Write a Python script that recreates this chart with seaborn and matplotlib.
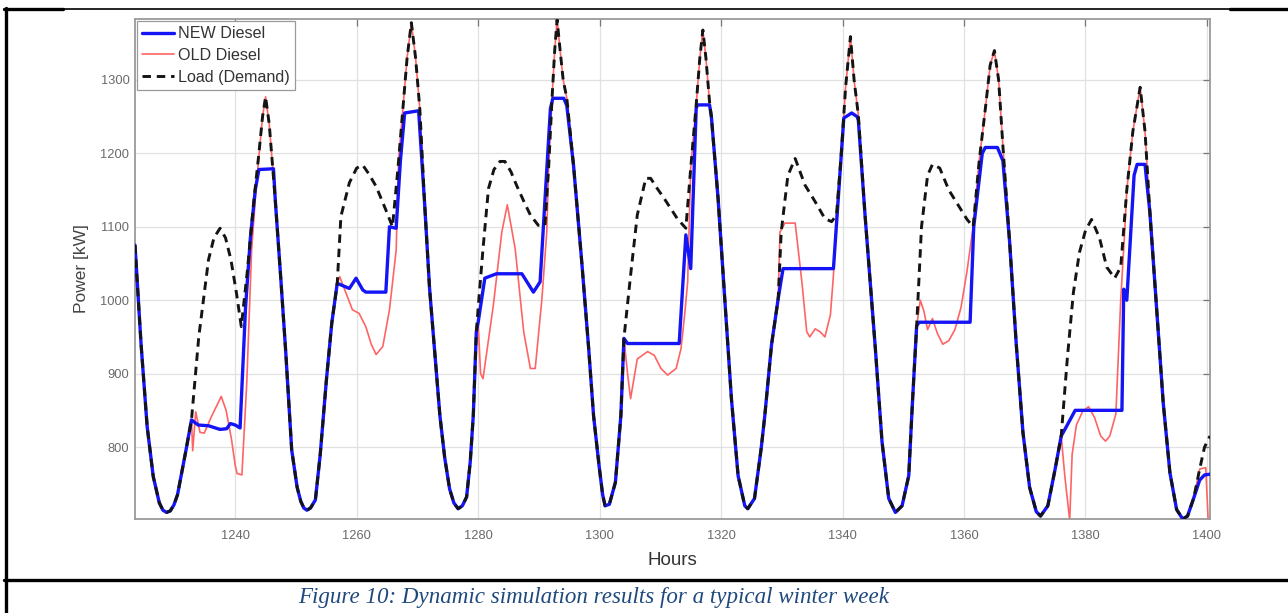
import matplotlib
matplotlib.use("Agg")
import matplotlib.pyplot as plt
import seaborn as sns
import pandas as pd
from matplotlib.lines import Line2D

# Demand profile: (hour, kW)
load_points = [
    (1223.5, 1075), (1224.5, 940), (1225.5, 828), (1226.5, 760), (1227.5, 724), (1228.1, 714),
    (1228.7, 711), (1229.3, 713), (1229.9, 721), (1230.5, 735), (1231.9, 796), (1232.8, 837),
    (1234.0, 950), (1235.6, 1055),
    (1236.5, 1085), (1237.5, 1098), (1238.4, 1085), (1239.3, 1055), (1240.2, 1010), (1241.0, 964),
    (1242.0, 1040), (1243.0, 1130), (1243.9, 1200), (1244.5, 1250), (1245.0, 1277), (1245.6, 1240),
    (1246.6, 1136), (1247.5, 1030), (1248.3, 932), (1249.3, 796), (1250.2, 745), (1250.8, 726),
    (1251.3, 717), (1251.8, 714), (1252.4, 717), (1253.2, 728), (1254.0, 790), (1255.0, 890),
    (1255.9, 969),
    (1256.8, 1023), (1257.4, 1114), (1258.8, 1160), (1260.0, 1180), (1261.0, 1184), (1262.0, 1172),
    (1263.2, 1155), (1264.8, 1123), (1265.9, 1100), (1266.8, 1180), (1267.6, 1260), (1268.3, 1330),
    (1269.0, 1378), (1269.7, 1330), (1270.4, 1260), (1271.2, 1130), (1272.0, 1016), (1273.0, 915),
    (1273.7, 843), (1274.5, 785), (1275.3, 743), (1276.0, 724), (1276.7, 716), (1277.4, 720),
    (1278.1, 732), (1278.7, 780), (1279.2, 843), (1279.7, 957), (1280.2, 1010), (1280.8, 1070),
    (1281.7, 1152), (1282.6, 1178), (1283.6, 1189), (1284.4, 1189), (1285.4, 1175), (1286.3, 1157),
    (1287.5, 1135), (1288.6, 1116), (1289.9, 1102), (1291.0, 1102), (1291.6, 1180), (1292.2, 1280),
    (1292.6, 1340), (1293.0, 1382), (1293.5, 1340), (1294.0, 1300), (1294.6, 1275), (1295.7, 1184),
    (1297.1, 1048), (1298.2, 934), (1299.0, 843), (1299.9, 775), (1300.5, 735), (1300.9, 720),
    (1301.6, 722), (1302.6, 752), (1303.5, 843), (1304.0, 948), (1305.1, 1034), (1306.2, 1116),
    (1307.6, 1166), (1308.4, 1166), (1309.5, 1152), (1310.6, 1139), (1312.8, 1111), (1314.2, 1098),
    (1315.0, 1180), (1315.9, 1266), (1316.5, 1330), (1317.0, 1368), (1317.5, 1330), (1318.1, 1270),
    (1318.4, 1250), (1319.5, 1139), (1320.6, 1002), (1321.7, 866), (1322.8, 761), (1323.9, 720),
    (1324.4, 716), (1325.5, 730), (1326.6, 798), (1327.2, 843), (1328.3, 939), (1329.4, 1002),
    (1329.9, 1093), (1331.0, 1170), (1332.2, 1193), (1333.8, 1157), (1335.5, 1134), (1337.1, 1111),
    (1338.2, 1107), (1339.0, 1116), (1339.8, 1200), (1340.5, 1290), (1341.3, 1359), (1341.9, 1300),
    (1342.6, 1252), (1343.7, 1116), (1345.4, 934), (1346.5, 807), (1347.6, 730), (1348.7, 711),
    (1349.8, 720), (1350.9, 761), (1351.5, 860), (1352.2, 965), (1353.0, 1100), (1354.0, 1170),
    (1354.8, 1185), (1356.0, 1180), (1357.5, 1150), (1359.0, 1130), (1360.5, 1110), (1361.5, 1100),
    (1362.5, 1190), (1363.5, 1260), (1364.3, 1320), (1365.0, 1340), (1365.7, 1300), (1366.4, 1210),
    (1367.5, 1080), (1368.6, 940), (1369.7, 820), (1370.8, 745), (1371.9, 712), (1372.6, 706),
    (1373.8, 720), (1375.0, 770), (1376.0, 815), (1377.0, 920), (1378.0, 1010), (1379.0, 1065),
    (1380.0, 1095), (1381.0, 1110), (1382.3, 1085), (1383.5, 1045), (1384.8, 1030), (1385.8, 1045),
    (1386.8, 1150), (1387.8, 1230), (1389.0, 1290), (1389.8, 1230), (1390.6, 1120), (1391.7, 990),
    (1392.8, 860), (1393.9, 765), (1395.0, 715), (1396.0, 702), (1396.8, 706), (1397.8, 730),
    (1398.8, 770), (1399.6, 800), (1400.5, 815),
]

# NEW diesel dispatch: (hour, kW)
new_points = [
    (1223.5, 1075), (1224.5, 940), (1225.5, 828), (1226.5, 760), (1227.5, 724), (1228.1, 714),
    (1228.7, 711), (1229.3, 713), (1229.9, 721), (1230.5, 735), (1231.9, 796), (1232.8, 837),
    (1233.9, 830), (1235.6, 829),
    (1237.5, 824), (1238.6, 825), (1239.2, 832), (1240.0, 830), (1240.8, 826), (1241.7, 990),
    (1242.5, 1085), (1243.3, 1150), (1243.9, 1178), (1246.3, 1179), (1246.6, 1136), (1247.5, 1030),
    (1248.3, 932), (1249.3, 796), (1250.2, 745), (1250.8, 726), (1251.3, 717), (1251.8, 714),
    (1252.4, 717), (1253.2, 728), (1254.0, 790), (1255.0, 890), (1255.9, 969), (1256.8, 1023),
    (1258.8, 1016),
    (1259.9, 1030), (1261.0, 1014), (1261.5, 1011), (1264.8, 1011), (1265.4, 1100), (1266.5, 1098),
    (1267.2, 1190), (1267.9, 1255), (1270.2, 1258), (1271.2, 1130), (1272.0, 1016), (1273.0, 915),
    (1273.7, 843), (1274.5, 785), (1275.3, 743), (1276.0, 724), (1276.7, 716), (1277.4, 720),
    (1278.1, 732), (1278.7, 780), (1279.2, 843), (1279.7, 957), (1280.0, 970), (1281.1, 1030),
    (1283.0, 1036), (1287.2, 1036), (1289.1, 1011), (1290.2, 1025), (1291.9, 1261), (1292.3, 1275),
    (1294.1, 1275), (1294.6, 1265), (1295.7, 1184), (1297.1, 1048), (1298.2, 934), (1299.0, 843),
    (1299.9, 775), (1300.5, 735), (1300.9, 720), (1301.6, 722), (1302.6, 752), (1303.5, 843),
    (1304.0, 948), (1304.6, 941), (1313.1, 941), (1314.2, 1089), (1315.0, 1043), (1315.9, 1261),
    (1316.1, 1266), (1318.1, 1266), (1318.4, 1250), (1319.5, 1139), (1320.6, 1002), (1321.7, 866),
    (1322.8, 761), (1323.9, 720), (1324.4, 716), (1325.5, 730), (1326.6, 798), (1327.2, 843),
    (1328.3, 939), (1329.4, 1002), (1330.2, 1043), (1338.5, 1043), (1340.2, 1248), (1341.5, 1255),
    (1342.4, 1250), (1342.6, 1245), (1343.7, 1116), (1345.4, 934), (1346.5, 807), (1347.6, 730),
    (1348.7, 711), (1349.8, 720), (1350.9, 761), (1351.5, 860), (1352.2, 965), (1352.6, 970),
    (1361.0, 970), (1361.6, 1100), (1363.0, 1200), (1363.5, 1208), (1365.5, 1208), (1366.4, 1190),
    (1367.5, 1080), (1368.6, 940), (1369.7, 820), (1370.8, 745), (1371.9, 712), (1372.6, 706),
    (1373.8, 720), (1375.0, 770), (1376.0, 815), (1377.0, 830), (1378.3, 850), (1386.0, 850),
    (1386.3, 1015), (1386.8, 1000), (1387.5, 1100), (1388.0, 1170), (1388.5, 1185), (1389.8, 1185),
    (1390.1, 1160), (1390.6, 1120), (1391.7, 990), (1392.8, 860), (1393.9, 765), (1395.0, 715),
    (1396.0, 702), (1396.8, 706), (1397.8, 730), (1398.8, 755), (1399.6, 762), (1400.5, 763),
]

# OLD diesel dispatch: (hour, kW)
old_points = [
    (1223.5, 1075), (1224.5, 940), (1225.5, 828), (1226.5, 760), (1227.5, 724), (1228.1, 714),
    (1228.7, 711), (1229.3, 713), (1229.9, 721), (1230.5, 735), (1231.9, 796), (1232.8, 837),
    (1233.0, 795), (1233.5, 848),
    (1234.2, 820), (1234.9, 819), (1236.0, 840), (1237.7, 869), (1238.5, 850), (1239.4, 810),
    (1240.0, 775), (1240.3, 764), (1241.1, 762), (1241.9, 887), (1242.7, 1068), (1243.5, 1160),
    (1244.5, 1250), (1245.0, 1277), (1245.6, 1240), (1246.6, 1136), (1247.5, 1030), (1248.3, 932),
    (1249.3, 796), (1250.2, 745), (1250.8, 726), (1251.3, 717), (1251.8, 714), (1252.4, 717),
    (1253.2, 728),
    (1254.0, 790), (1255.0, 890), (1255.9, 969), (1256.8, 1023), (1257.2, 1032), (1258.0, 1015),
    (1259.3, 987), (1260.4, 982), (1261.5, 964), (1262.4, 940), (1263.2, 926), (1264.3, 937),
    (1265.4, 987), (1266.5, 1068), (1266.9, 1190), (1267.6, 1260), (1268.3, 1330), (1269.0, 1378),
    (1269.7, 1330), (1270.4, 1260), (1271.2, 1130), (1272.0, 1016), (1273.0, 915), (1273.7, 843),
    (1274.5, 785), (1275.3, 743), (1276.0, 724), (1276.7, 716), (1277.4, 720), (1278.1, 732),
    (1278.7, 780), (1279.2, 843), (1279.7, 957), (1280.0, 970), (1280.4, 900), (1280.8, 893),
    (1281.6, 940), (1282.5, 993), (1283.9, 1093), (1284.8, 1130), (1286.1, 1070), (1287.5, 957),
    (1288.6, 907), (1289.4, 907), (1290.5, 1002), (1291.3, 1093), (1291.6, 1180), (1292.2, 1280),
    (1292.6, 1340), (1293.0, 1382), (1293.5, 1340), (1294.0, 1300), (1294.6, 1275), (1295.7, 1184),
    (1297.1, 1048), (1298.2, 934), (1299.0, 843), (1299.9, 775), (1300.5, 735), (1300.9, 720),
    (1301.6, 722), (1302.6, 752), (1303.5, 843), (1304.0, 948), (1304.6, 900), (1305.1, 866),
    (1306.2, 920), (1307.9, 930), (1309.0, 925), (1310.1, 907), (1311.2, 898), (1312.6, 907),
    (1313.4, 934), (1314.0, 980), (1314.5, 1025), (1315.0, 1180), (1315.9, 1266), (1316.5, 1330),
    (1317.0, 1368), (1317.5, 1330), (1318.1, 1270), (1318.4, 1250), (1319.5, 1139), (1320.6, 1002),
    (1321.7, 866), (1322.8, 761), (1323.9, 720), (1324.4, 716), (1325.5, 730), (1326.6, 798),
    (1327.2, 843), (1328.3, 939), (1329.4, 1002), (1329.7, 1093), (1330.5, 1105), (1332.2, 1105),
    (1333.3, 1025), (1334.1, 957), (1334.6, 950), (1335.5, 961), (1336.3, 957), (1337.1, 950),
    (1338.0, 980), (1338.5, 1034), (1339.0, 1116), (1339.8, 1200), (1340.5, 1290), (1341.3, 1359),
    (1341.9, 1300), (1342.6, 1252), (1343.7, 1116), (1345.4, 934), (1346.5, 807), (1347.6, 730),
    (1348.7, 711), (1349.8, 720), (1350.9, 761), (1351.5, 860), (1352.2, 965), (1352.8, 1000),
    (1353.4, 985), (1354.0, 960), (1354.8, 975), (1355.6, 955), (1356.5, 940), (1357.5, 945),
    (1358.5, 960), (1359.5, 990), (1360.5, 1040), (1361.5, 1100), (1362.5, 1190), (1363.5, 1260),
    (1364.3, 1320), (1365.0, 1340), (1365.7, 1300), (1366.4, 1210), (1367.5, 1080), (1368.6, 940),
    (1369.7, 820), (1370.8, 745), (1371.9, 712), (1372.6, 706), (1373.8, 720), (1375.0, 770),
    (1376.0, 815), (1376.6, 760), (1377.4, 700), (1377.8, 790), (1378.5, 830), (1379.5, 848),
    (1380.5, 855), (1381.5, 840), (1382.5, 815), (1383.3, 808), (1384.0, 815), (1385.0, 845),
    (1385.8, 1000), (1386.5, 1100), (1386.8, 1150), (1387.8, 1230), (1389.0, 1290), (1389.8, 1230),
    (1390.6, 1120), (1391.7, 990), (1392.8, 860), (1393.9, 765), (1395.0, 715), (1396.0, 702),
    (1396.8, 706), (1397.8, 730), (1398.8, 770), (1399.8, 772), (1400.2, 700),
]

series_names = ["NEW Diesel", "OLD Diesel", "Load (Demand)"]
x_ticks = [1240, 1260, 1280, 1300, 1320, 1340, 1360, 1380, 1400]
y_ticks = [800, 900, 1000, 1100, 1200, 1300]
caption = "Figure 10: Dynamic simulation results for a typical winter week"


def to_frame(points, name):
    df = pd.DataFrame(points, columns=["Hours", "Power"])
    df["Series"] = name
    return df


frames = [to_frame(new_points, series_names[0]),
          to_frame(old_points, series_names[1]),
          to_frame(load_points, series_names[2])]

sns.set_theme(style="white")
plt.rcParams["font.family"] = ["Liberation Sans", "DejaVu Sans"]

W, H = 1288, 613
fig = plt.figure(figsize=(W / 100, H / 100), dpi=100)
ax = fig.add_axes([135 / W, 1 - 519 / H, (1210 - 135) / W, (519 - 19) / H])

styles = {
    series_names[0]: dict(color="#1414F5", lw=2.4, ls="-", zorder=3),
    series_names[1]: dict(color="#FF6464", lw=1.2, ls="-", zorder=2),
    series_names[2]: dict(color="#141414", lw=2.1, ls=(0, (2.9, 2.0)), zorder=4),
}
for df in frames:
    name = df["Series"].iloc[0]
    st = styles[name]
    sns.lineplot(data=df, x="Hours", y="Power", ax=ax, label=name, color=st["color"],
                 linewidth=st["lw"], linestyle=st["ls"], zorder=st["zorder"],
                 sort=False, estimator=None)

ax.set_xlim(1223.5, 1400.5)
ax.set_ylim(702, 1383)
ax.set_xticks(x_ticks)
ax.set_yticks(y_ticks)
ax.grid(True, color="#e1e1e1", lw=0.9)
for s in ax.spines.values():
    s.set_color("#9a9a9a")
    s.set_linewidth(1.3)
ax.tick_params(axis="both", direction="in", length=5, width=0.9, color="#777777",
               labelsize=9.3, labelcolor="#6a6a6a", top=True, right=True)
ax.tick_params(axis="x", pad=8)
ax.tick_params(axis="y", pad=4)
ax.set_xlabel("Hours", fontsize=13.5, color="#333333", labelpad=7)
ax.set_ylabel("Power [kW]", fontsize=12.5, color="#444444", labelpad=8)

leg = ax.legend(loc="upper left", fontsize=11.6, frameon=True, fancybox=False,
                borderpad=0.3, labelspacing=0.42, handlelength=2.0, handletextpad=0.25,
                borderaxespad=0.15)
leg.get_frame().set_edgecolor("#9a9a9a")
leg.get_frame().set_linewidth(0.9)
leg.get_frame().set_alpha(1.0)
for t in leg.get_texts():
    t.set_color("#333333")


# table ruling around the figure
def hline(y, x0, x1, lw):
    fig.add_artist(Line2D([x0 / W, x1 / W], [1 - y / H, 1 - y / H], color="black", lw=lw,
                          transform=fig.transFigure))


hline(9, 4, 63, 2.4)
hline(9, 63, 1230, 1.2)
hline(9, 1230, 1288, 2.4)
hline(580, 4, 1288, 2.4)
fig.add_artist(Line2D([5.5 / W, 5.5 / W], [1 - 8 / H, 0], color="black", lw=2.4,
                      transform=fig.transFigure))

fig.text(594 / W, 1 - 597 / H, caption, ha="center", va="center", fontsize=16.6,
         family=["Liberation Serif", "DejaVu Serif"], style="italic", color="#1F497D")

fig.savefig("out.png", dpi=100)
